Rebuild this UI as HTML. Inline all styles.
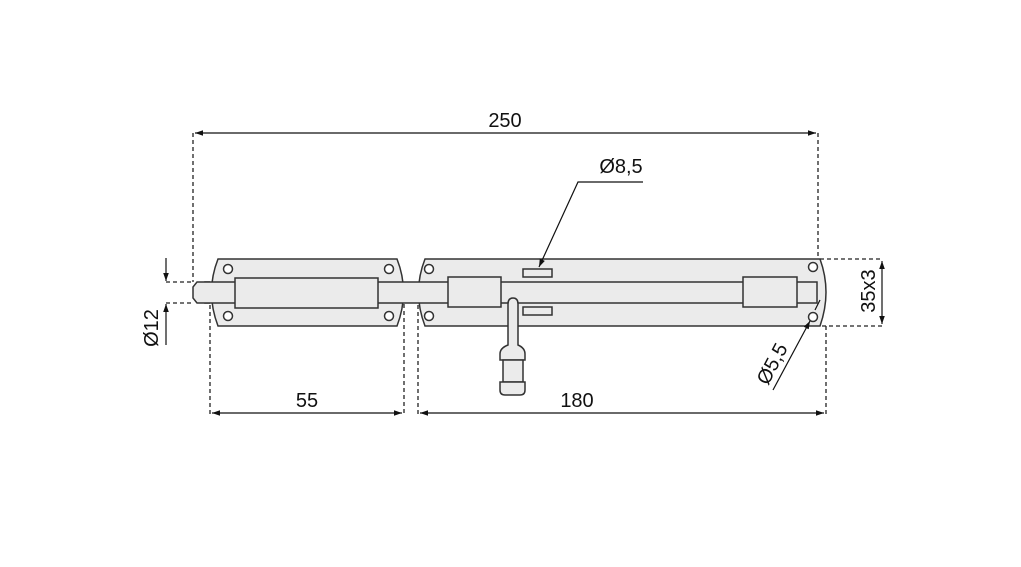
<!DOCTYPE html>
<html><head><style>body{margin:0;background:#fff}svg{display:block}text{font-family:"Liberation Sans",sans-serif;font-size:20px;fill:#111}</style></head>
<body>
<svg width="1021" height="567" viewBox="0 0 1021 567">
<defs>
<marker id="a" viewBox="0 0 10 10" refX="10" refY="5" markerWidth="8" markerHeight="8" markerUnits="userSpaceOnUse" orient="auto-start-reverse"><path d="M0,1.5L10,5L0,8.5z" fill="#111"/></marker>
</defs>
<g stroke="#222" stroke-width="1.3" fill="none" stroke-dasharray="4,3">
<line x1="193" y1="133" x2="193" y2="282"/>
<line x1="818" y1="133" x2="818" y2="259"/>
<line x1="210" y1="305" x2="210" y2="415"/>
<line x1="404" y1="290" x2="404" y2="415"/>
<line x1="418" y1="305" x2="418" y2="415"/>
<line x1="826" y1="326" x2="826" y2="415"/>
<line x1="166" y1="282" x2="193" y2="282"/>
<line x1="166" y1="303" x2="193" y2="303"/>
<line x1="820" y1="259" x2="882" y2="259"/>
<line x1="822" y1="326" x2="882" y2="326"/>
</g>
<g stroke="#333" stroke-width="1.5" fill="#ebebeb">
<path d="M218,259 H397 Q410,292 397,326 H218 Q205,292 218,259Z"/>
<path d="M425,259 H820 Q832,292 820,326 H425 Q412,292 425,259Z"/>
<rect x="205" y="282" width="612" height="21"/>
<path d="M210,282 H197 L193,287 V298 L197,303 H210"/>
<rect x="235" y="278" width="143" height="30"/>
<rect x="448" y="277" width="53" height="30"/>
<rect x="743" y="277" width="54" height="30"/>
<rect x="523" y="269" width="29" height="8"/>
<rect x="523" y="307" width="29" height="8"/>
<path d="M508,304 Q508,298 513,298 Q518,298 518,304 V345 Q525,348 525,354 V360 H500 V354 Q500,348 508,345Z"/>
<rect x="503" y="360" width="20" height="22"/>
<path d="M500,382 H525 V390 Q525,395 520,395 H505 Q500,395 500,390Z"/>
</g>
<g stroke="#333" stroke-width="1.5" fill="#fff">
<circle cx="228" cy="269" r="4.5"/><circle cx="389" cy="269" r="4.5"/>
<circle cx="228" cy="316" r="4.5"/><circle cx="389" cy="316" r="4.5"/>
<circle cx="429" cy="269" r="4.5"/><circle cx="429" cy="316" r="4.5"/>
<circle cx="813" cy="267" r="4.5"/><circle cx="813" cy="317" r="4.5"/>
</g>
<g stroke="#111" stroke-width="1.2" fill="none">
<line x1="195" y1="133" x2="816" y2="133" marker-start="url(#a)" marker-end="url(#a)"/>
<line x1="212" y1="413" x2="402" y2="413" marker-start="url(#a)" marker-end="url(#a)"/>
<line x1="420" y1="413" x2="824" y2="413" marker-start="url(#a)" marker-end="url(#a)"/>
<line x1="882" y1="261" x2="882" y2="324" marker-start="url(#a)" marker-end="url(#a)"/>
<line x1="166" y1="258" x2="166" y2="281" marker-end="url(#a)"/>
<line x1="166" y1="345" x2="166" y2="304" marker-end="url(#a)"/>
<polyline points="643,182 578,182 539,267" marker-end="url(#a)"/>
<line x1="773" y1="390" x2="810" y2="321" marker-end="url(#a)"/>
<line x1="820" y1="300" x2="815" y2="310"/>
</g>
<text x="505" y="127" text-anchor="middle">250</text>
<text x="307" y="407" text-anchor="middle">55</text>
<text x="577" y="407" text-anchor="middle">180</text>
<text x="621" y="173" text-anchor="middle">Ø8,5</text>
<text transform="translate(158,328) rotate(-90)" text-anchor="middle">Ø12</text>
<text transform="translate(875,291) rotate(-90)" text-anchor="middle">35x3</text>
<text transform="translate(778,367) rotate(-62)" text-anchor="middle">Ø5,5</text>
</svg>
</body></html>
